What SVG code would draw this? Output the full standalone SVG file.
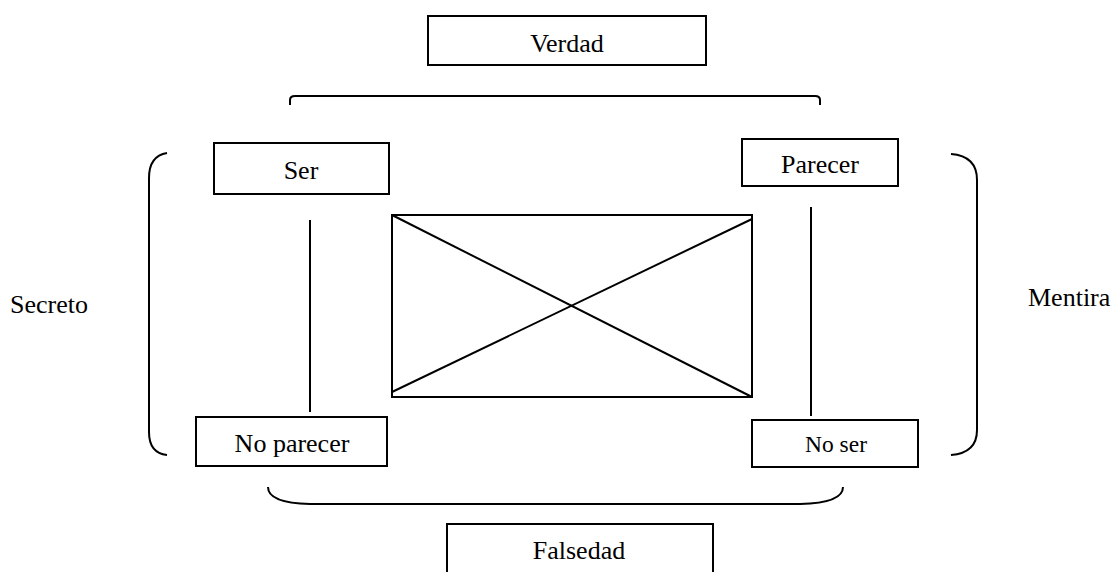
<svg xmlns="http://www.w3.org/2000/svg" width="1114" height="572" viewBox="0 0 1114 572">
  <style>
    .box { fill: #ffffff; stroke: #000000; stroke-width: 2; }
    .ln { fill: none; stroke: #000000; stroke-width: 2; }
    .lbl { font-family: "Liberation Serif", "Times New Roman", serif; font-size: 26px; fill: #000000; text-anchor: middle; }
    .side { font-family: "Liberation Serif", "Times New Roman", serif; font-size: 26px; fill: #000000; }
  </style>
  <rect width="1114" height="572" fill="#ffffff"/>

  <!-- connectors: braces, verticals and the crossed square -->
  <g id="connectors">
    <path class="ln" d="M290,105 L290,100 Q290,96 295,96 L815,96 Q820,96 820,100 L820,105"/>
    <path class="ln" d="M167,153 Q149,156 149,178 L149,432 Q149,453 167,455"/>
    <path class="ln" d="M951,154 Q977,156 977,180 L977,430 Q977,453 951,455"/>
    <path class="ln" d="M268,487 Q268,503 310,504 L800,504 Q843,503 843,487"/>
    <line class="ln" x1="310" y1="220" x2="310" y2="412"/>
    <line class="ln" x1="811" y1="207" x2="811" y2="416"/>
    <rect class="ln" x="392" y="215" width="360" height="182"/>
    <line class="ln" x1="392" y1="215" x2="752" y2="397"/>
    <line class="ln" x1="392" y1="392" x2="752" y2="219"/>
  </g>

  <g id="verdad">
    <rect class="box" x="428" y="16" width="278" height="49"/>
    <text class="lbl" x="567" y="52">Verdad</text>
  </g>
  <g id="ser">
    <rect class="box" x="214" y="143" width="175" height="51"/>
    <text class="lbl" x="301" y="179">Ser</text>
  </g>
  <g id="parecer">
    <rect class="box" x="742" y="139" width="156" height="47"/>
    <text class="lbl" x="820" y="173">Parecer</text>
  </g>
  <g id="no-parecer">
    <rect class="box" x="196" y="417" width="191" height="49"/>
    <text class="lbl" x="292" y="452">No parecer</text>
  </g>
  <g id="no-ser">
    <rect class="box" x="752" y="420" width="166" height="47"/>
    <text class="lbl" x="836" y="452" style="font-size:23.5px">No ser</text>
  </g>
  <g id="falsedad">
    <rect class="box" x="447" y="524" width="266" height="60"/>
    <text class="lbl" x="579" y="559">Falsedad</text>
  </g>
  <g id="secreto">
    <text class="side" x="10" y="313">Secreto</text>
  </g>
  <g id="mentira">
    <text class="side" x="1028" y="306">Mentira</text>
  </g>
</svg>
